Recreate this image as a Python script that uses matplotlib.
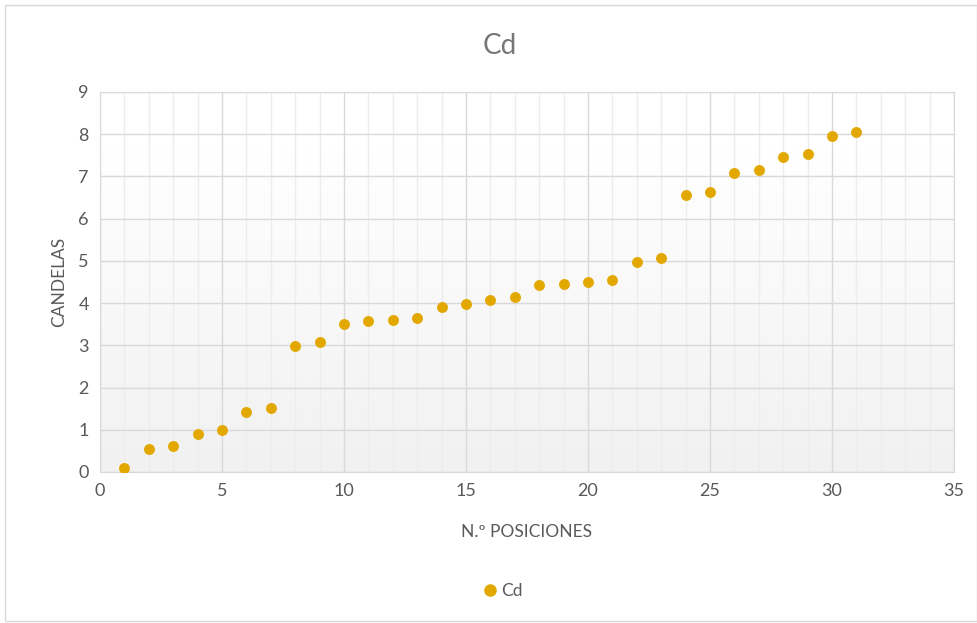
import numpy as np
import matplotlib
matplotlib.use('Agg')
import matplotlib.pyplot as plt
from matplotlib.patches import Rectangle
from matplotlib.lines import Line2D

plt.rcParams['font.family'] = ['Lato', 'DejaVu Sans']

# datos
posiciones = list(range(1, 32))
candelas = [0.10, 0.54, 0.62, 0.91, 0.99, 1.43, 1.51, 2.99, 3.08, 3.51,
            3.57, 3.60, 3.64, 3.90, 3.97, 4.08, 4.15, 4.42, 4.46, 4.49,
            4.54, 4.98, 5.06, 6.55, 6.62, 7.07, 7.15, 7.45, 7.54, 7.96, 8.05]

GOLD = '#E3A800'
TXT = '#595959'

fig = plt.figure(figsize=(9.78, 6.23), dpi=100)
# marco exterior del gráfico
fig.patches.append(Rectangle((5 / 978, 2 / 623), 972 / 978, 616 / 623,
                             transform=fig.transFigure, fill=False,
                             edgecolor='#D9D9D9', linewidth=1))

ax = fig.add_axes([100 / 978, 1 - 472 / 623, 854 / 978, 380 / 623])

# fondo degradado (blanco arriba -> gris claro abajo)
grad = np.linspace(0, 1, 256).reshape(-1, 1)
grad = np.clip((grad - 0.15) / 0.85, 0, 1)
col = 1.0 - grad * (1.0 - 0.945)
img = np.dstack([col, col, col])
ax.imshow(img, extent=[0, 35, 0, 9], origin='upper', aspect='auto', zorder=0)

ax.set_xlim(0, 35)
ax.set_ylim(0, 9)
ax.set_xticks(range(0, 36, 5))
ax.set_xticks(range(0, 36, 1), minor=True)
ax.set_yticks(range(0, 10))
ax.grid(which='major', color='#D9D9D9', linewidth=1, zorder=1)
ax.grid(which='minor', axis='x', color='#EDEDED', linewidth=1, zorder=1)
ax.tick_params(which='both', length=0, colors=TXT, labelsize=13, pad=8)
for s in ax.spines.values():
    s.set_color('#D9D9D9')

ax.scatter(posiciones, candelas, s=62, color=GOLD, zorder=3, linewidths=0)

ax.set_xlabel('N.º POSICIONES', color=TXT, fontsize=12.5, labelpad=18)
ax.set_ylabel('CANDELAS', color=TXT, fontsize=12.5, labelpad=8)
fig.text(500 / 978, 1 - 46 / 623, 'Cd', ha='center', va='center',
         color='#767676', fontsize=20)

h = Line2D([], [], marker='o', linestyle='none', color=GOLD, markersize=8)
fig.legend([h], ['Cd'], loc='center', bbox_to_anchor=(502 / 978, 1 - 591 / 623),
           frameon=False, fontsize=12.5, labelcolor=TXT, handletextpad=0.1,
           handlelength=1)

fig.savefig('out.png', dpi=100)
